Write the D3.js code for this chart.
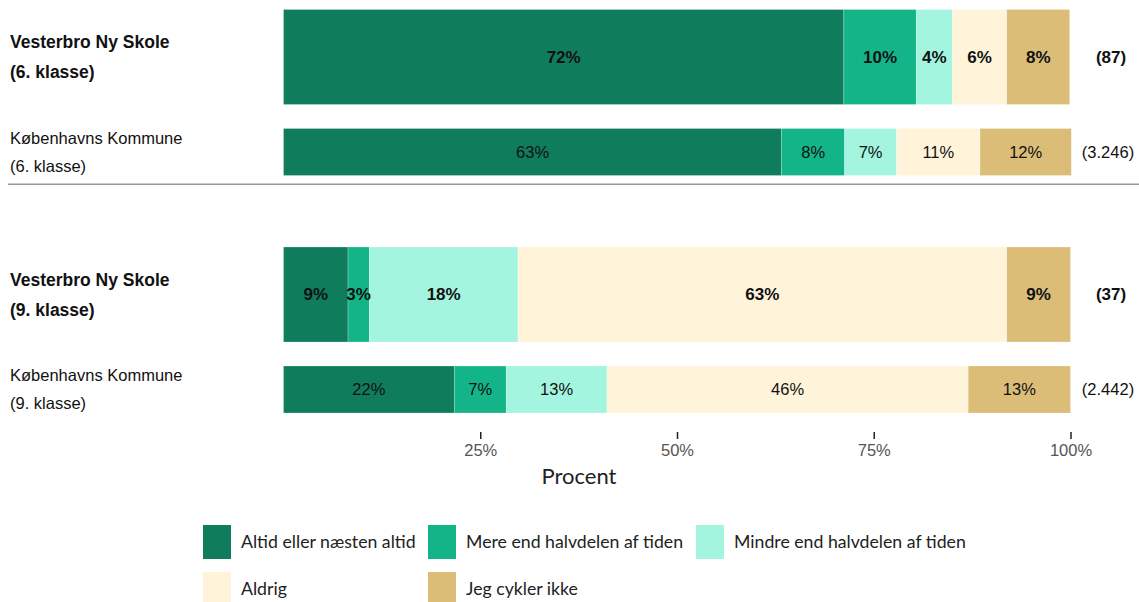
<!DOCTYPE html>
<html>
<head>
<meta charset="utf-8">
<script src="https://cdn.jsdelivr.net/npm/d3@7"></script>
<style>
  body { margin: 0; background: #fff; }
  svg { display: block; }
</style>
</head>
<body>
<div id="chart"></div>
<script>
// answer categories (legend order = stack order)
var categories = ["Altid eller næsten altid", "Mere end halvdelen af tiden", "Mindre end halvdelen af tiden", "Aldrig", "Jeg cykler ikke"];
var colors = ["#0f7c5c", "#13b588", "#a3f5df", "#fff4da", "#dbbd78"];

// rows
var rowTitles = [
    ["Vesterbro Ny Skole", "(6. klasse)"],
    ["Københavns Kommune", "(6. klasse)"],
    ["Vesterbro Ny Skole", "(9. klasse)"],
    ["Københavns Kommune", "(9. klasse)"]
];
var rowIsSchool = [true, false, true, false];
var rowGroup = [0, 0, 1, 1];
var rowCounts = ["(87)", "(3.246)", "(37)", "(2.442)"];

// bar widths in percent
var school6 = [71.2, 9.2, 4.6, 6.9, 8.0];
var kommune6 = [63.3, 8.0, 6.6, 10.6, 11.6];
var school9 = [8.2, 2.7, 18.9, 62.1, 8.1];
var kommune9 = [21.7, 6.6, 12.8, 45.9, 13.0];

// printed labels
var school6Labels = ["72%", "10%", "4%", "6%", "8%"];
var kommune6Labels = ["63%", "8%", "7%", "11%", "12%"];
var school9Labels = ["9%", "3%", "18%", "63%", "9%"];
var kommune9Labels = ["22%", "7%", "13%", "46%", "13%"];

var tickValues = [25, 50, 75, 100];

var rowValues = [school6, kommune6, school9, kommune9];
var rowLabels = [school6Labels, kommune6Labels, school9Labels, kommune9Labels];

var arial = "'Liberation Sans', Arial, Helvetica, sans-serif";
var calibri = "Lato, 'Open Sans', sans-serif";

var outerWidth = 1139;
var outerHeight = 602;

var svg = d3.select('#chart').append('svg')
    .attr('width', outerWidth)
    .attr('height', outerHeight);

var xScale = d3.scaleLinear().domain([0, 100]).range([283.5, 1070.5]);
// slot position: row index + half a slot per group
var yScale = d3.scaleLinear().domain([0, 3.5]).range([57, 389.5]);

var rows = rowValues.map(function (vals, i) {
    var ends = d3.cumsum(vals);
    return {
        i: i,
        pos: i + rowGroup[i] * 0.5,
        school: rowIsSchool[i],
        segs: vals.map(function (v, j) {
            return { x0: ends[j] - v, x1: ends[j], cat: j, label: rowLabels[i][j] };
        })
    };
});

function barH(r) { return r.school ? 95 : 47; }

var rowG = svg.append('g').selectAll('g.row')
    .data(rows)
    .enter()
    .append('g')
    .attr('class', 'row')
    .attr('transform', function (r) { return 'translate(0,' + yScale(r.pos) + ')'; });

rowG.selectAll('rect')
    .data(function (r) { return r.segs.map(function (s) { s.r = r; return s; }); })
    .enter()
    .append('rect')
    .attr('x', function (s) { return xScale(s.x0); })
    .attr('width', function (s) { return xScale(s.x1) - xScale(s.x0); })
    .attr('y', function (s) { return -barH(s.r) / 2; })
    .attr('height', function (s) { return barH(s.r); })
    .attr('fill', function (s) { return colors[s.cat]; })
    .attr('stroke', '#ffffff')
    .attr('stroke-opacity', 0.4)
    .attr('stroke-width', 0.6);

rowG.selectAll('text.val')
    .data(function (r) { return r.segs; })
    .enter()
    .append('text')
    .attr('class', 'val')
    .attr('x', function (s) { return (xScale(s.x0) + xScale(s.x1)) / 2; })
    .attr('y', 0)
    .attr('dy', '0.35em')
    .attr('text-anchor', 'middle')
    .style('font-family', arial)
    .style('font-size', function (s) { return s.r.school ? '17px' : '16.5px'; })
    .style('font-weight', function (s) { return s.r.school ? 'bold' : 'normal'; })
    .attr('fill', '#111')
    .text(function (s) { return s.label; });

// counts on the right
rowG.append('text')
    .attr('x', function (r) { return r.school ? 1111 : 1108; })
    .attr('y', 0)
    .attr('dy', '0.35em')
    .attr('text-anchor', 'middle')
    .style('font-family', arial)
    .style('font-size', function (r) { return r.school ? '17px' : '16.5px'; })
    .style('font-weight', function (r) { return r.school ? 'bold' : 'normal'; })
    .attr('fill', '#111')
    .text(function (r) { return rowCounts[r.i]; });

// row titles on the left, two lines
rowG.append('text')
    .attr('x', 10)
    .style('font-family', arial)
    .style('font-size', function (r) { return r.school ? '17.5px' : '16.5px'; })
    .style('font-weight', function (r) { return r.school ? 'bold' : 'normal'; })
    .attr('fill', '#111')
    .each(function (r) {
        var t = d3.select(this);
        var gap = r.school ? 30 : 28;
        rowTitles[r.i].forEach(function (line, k) {
            t.append('tspan')
                .attr('x', 10)
                .attr('y', (k - 0.5) * gap)
                .attr('dy', '0.35em')
                .text(line);
        });
    });

// divider between the two grade groups
svg.append('line')
    .attr('x1', 8)
    .attr('x2', 1139)
    .attr('y1', yScale(1.34))
    .attr('y2', yScale(1.34))
    .attr('stroke', '#9a9a9a')
    .attr('stroke-width', 1.5);

// x axis
var xAxis = d3.axisBottom(xScale)
    .tickValues(tickValues)
    .tickFormat(function (d) { return d + '%'; })
    .tickSize(7)
    .tickPadding(5);

var xAxisG = svg.append('g')
    .attr('transform', 'translate(0,432)')
    .call(xAxis);
xAxisG.select('.domain').remove();
xAxisG.selectAll('.tick line').attr('stroke', '#222').attr('stroke-width', 1.5);
xAxisG.selectAll('.tick text')
    .attr('fill', '#555')
    .style('font-family', arial)
    .style('font-size', '16.5px');

svg.append('text')
    .attr('x', 579)
    .attr('y', 476)
    .attr('dy', '0.35em')
    .attr('text-anchor', 'middle')
    .style('font-family', calibri)
    .style('font-size', '22px')
    .attr('fill', '#222')
    .text('Procent');

// legend, 3 per row
var legendX = [203, 428, 696];
var legendY = [542, 589];
var legend = svg.append('g').selectAll('g.leg')
    .data(categories)
    .enter()
    .append('g')
    .attr('class', 'leg')
    .attr('transform', function (d, i) {
        return 'translate(' + legendX[i % 3] + ',' + legendY[Math.floor(i / 3)] + ')';
    });

legend.append('rect')
    .attr('x', 0)
    .attr('y', -17)
    .attr('width', 28)
    .attr('height', 34)
    .attr('fill', function (d, i) { return colors[i]; });

legend.append('text')
    .attr('x', 38)
    .attr('y', 0)
    .attr('dy', '0.35em')
    .style('font-family', calibri)
    .style('font-size', '17.7px')
    .attr('fill', '#222')
    .text(function (d) { return d; });
</script>
</body>
</html>
